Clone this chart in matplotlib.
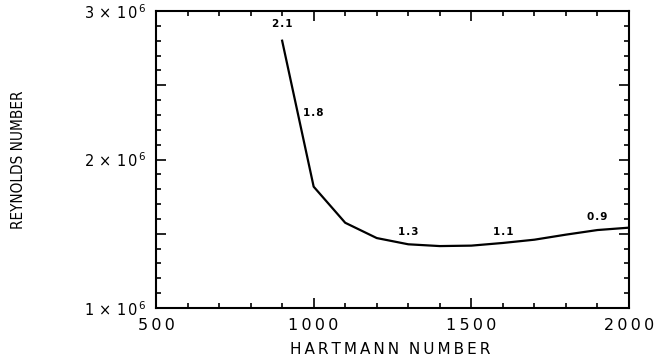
import matplotlib
matplotlib.use("Agg")
import matplotlib.pyplot as plt
from matplotlib.ticker import MultipleLocator, FixedLocator, FuncFormatter

# Data
hartmann = [900, 1000, 1100, 1200, 1300, 1400, 1500, 1600, 1700, 1800, 1900, 2000]
reynolds = [2.80e6, 1.817e6, 1.574e6, 1.471e6, 1.429e6, 1.417e6, 1.420e6,
            1.438e6, 1.46e6, 1.494e6, 1.525e6, 1.541e6]
ann_text = ["2.1", "1.8", "1.3", "1.1", "0.9"]
ann_x = [900, 1000, 1300, 1600, 1900]
ann_y = [2.912e6, 2.313e6, 1.514e6, 1.514e6, 1.611e6]
xticks = [500, 1000, 1500, 2000]
ymajor = [1.0e6, 1.5e6, 2.0e6, 2.5e6, 3.0e6]

SP = "\u2009"

fig = plt.figure(figsize=(6.6, 3.62), dpi=100)
ax = fig.add_axes([156/660, 54/362, 473/660, 297/362])
ax.plot(hartmann, reynolds, color="black", lw=1.6)
for t, x, y in zip(ann_text, ann_x, ann_y):
    ax.text(x, y, "\u200a".join(t), ha="center", va="center", fontsize=7.5, fontweight="bold")

ax.set_xlim(500, 2000)
ax.set_ylim(1e6, 3e6)
ax.xaxis.set_major_locator(FixedLocator(xticks))
ax.xaxis.set_minor_locator(MultipleLocator(100))
ax.yaxis.set_major_locator(FixedLocator(ymajor))
ax.yaxis.set_minor_locator(MultipleLocator(1e5))

def yfmt(v, pos):
    m = v / 1e6
    if abs(m - round(m)) < 1e-6:
        return r"$%d\,\times\,1\,0^{\,6}$" % round(m)
    return ""
ax.yaxis.set_major_formatter(FuncFormatter(yfmt))
ax.xaxis.set_major_formatter(FuncFormatter(lambda v, p: SP.join("%d" % v)))

ax.tick_params(which="both", direction="in", top=True, right=True, width=1.2)
ax.tick_params(which="major", length=7)
ax.tick_params(which="minor", length=3.5)
ax.tick_params(axis="x", labelsize=11.5, pad=7)
ax.tick_params(axis="y", labelsize=10.5, pad=7)
for s in ax.spines.values():
    s.set_linewidth(1.5)

xl = "  ".join(SP.join(w) for w in "HARTMANN NUMBER".split())
fig.text(390/660, 1 - 350/362, xl, ha="center", va="center", fontsize=11)
fig.text(19/660, 1 - 160/362, "REYNOLDS NUMBER", rotation=90, ha="center", va="center",
         fontsize=11, family="DejaVu Sans", fontstretch="condensed")
fig.savefig("out.png", dpi=100)
